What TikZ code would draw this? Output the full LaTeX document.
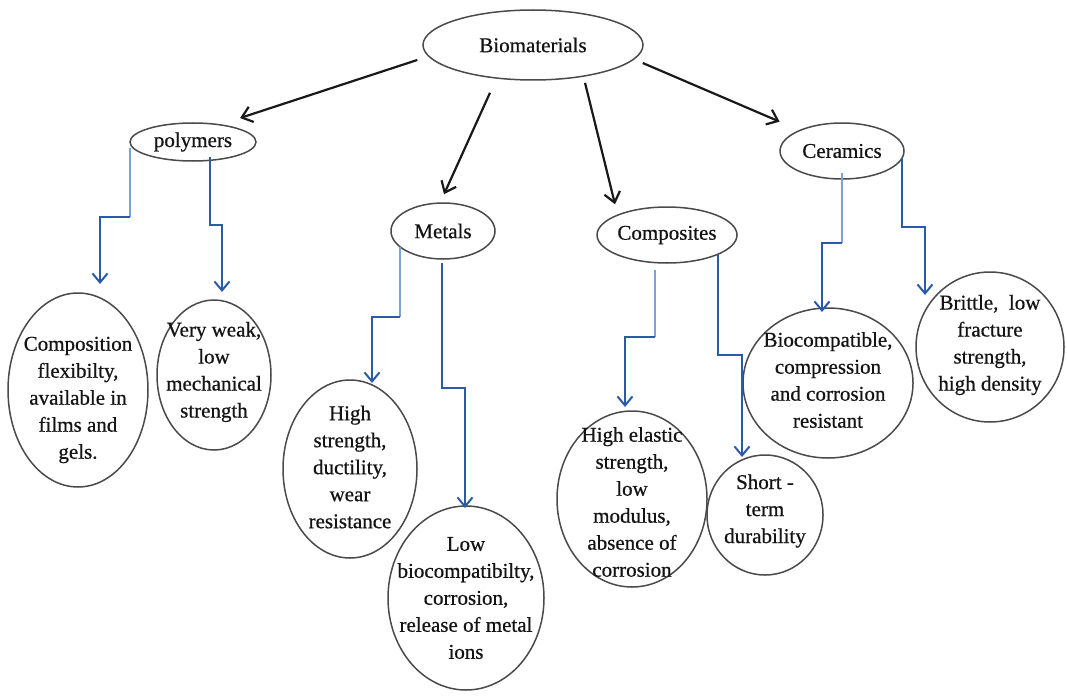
\documentclass[tikz,border=0pt]{standalone}
\usepackage{fontspec}
\setmainfont{Liberation Serif}[UprightFeatures={FakeBold=0.6}]
\usetikzlibrary{arrows.meta,shapes.geometric,calc}
\definecolor{dblue}{HTML}{2B5BA6}
\definecolor{lblue}{HTML}{7AA3D6}
\definecolor{ecol}{HTML}{4A4A4A}
\definecolor{tcol}{HTML}{141414}
\begin{document}
\begin{tikzpicture}[x=1pt,y=-1pt,
  el/.style={ellipse, draw=ecol, line width=1.5pt, inner sep=0pt},
  txt/.style={align=center, inner sep=0pt, text=tcol, font=\fontsize{21}{27}\selectfont},
  blk/.style={draw=black!90, line width=2.2pt, -{Straight Barb[length=10pt,width=16pt,line width=2.2pt]}},
  bl/.style={draw=dblue, line width=2.4pt, line join=miter, -{Straight Barb[length=9pt,width=15pt,line width=2pt]}},
  lb/.style={draw=lblue, line width=1.8pt},
]
\useasboundingbox (0,0) rectangle (1067,698);
\fill[white] (0,0) rectangle (1067,698);

% parent ellipses
\node[el, minimum width=220pt, minimum height=70pt] (bio) at (533,45) {};
\node[txt] (bio-t) at (bio) {Biomaterials};
\node[el, minimum width=126pt, minimum height=38pt] (poly) at (193,142) {};
\node[txt] (poly-t) at (poly) {polymers};
\node[el, minimum width=104pt, minimum height=56pt] (met) at (443,231) {};
\node[txt] (met-t) at (met) {Metals};
\node[el, minimum width=140pt, minimum height=56pt] (com) at (667,235) {};
\node[txt] (com-t) at (com) {Composites};
\node[el, minimum width=124pt, minimum height=56pt] (cer) at (842,151) {};
\node[txt] (cer-t) at (cer) {Ceramics};

% leaf ellipses
\node[el, minimum width=140pt, minimum height=194pt] (comp) at (78,390) {};
\node[txt] (comp-t) at (78,400) {Composition\\flexibilty,\\available in\\films and\\gels.};
\node[el, minimum width=114pt, minimum height=150pt] (weak) at (214,375) {};
\node[txt] (weak-t) at (214,372) {Very weak,\\low\\mechanical\\strength};
\node[el, minimum width=134pt, minimum height=178pt] (hs) at (350,469) {};
\node[txt] (hs-t) at (350,467) {High\\strength,\\ductility,\\wear\\resistance};
\node[el, minimum width=156pt, minimum height=184pt] (lbc) at (466,598) {};
\node[txt] (lbc-t) at (466,598) {Low\\biocompatibilty,\\corrosion,\\release of metal\\ions};
\node[el, minimum width=150pt, minimum height=176pt] (he) at (632,499) {};
\node[txt] (he-t) at (632,502) {High elastic\\strength,\\low\\modulus,\\absence of\\corrosion};
\node[el, minimum width=116pt, minimum height=120pt] (st) at (765,515) {};
\node[txt] (st-t) at (765,511) {Short -\\term\\durability};
\node[el, minimum width=170pt, minimum height=150pt] (bc) at (828,383) {};
\node[txt] (bc-t) at (828,380) {Biocompatible,\\compression\\and corrosion\\resistant};
\node[el, minimum width=148pt, minimum height=150pt] (br) at (990,347) {};
\node[txt] (br-t) at (990,345) {Brittle,\ \ low\\fracture\\strength,\\high density};

% black arrows from Biomaterials
\draw[blk] ($(bio.west)+(-5,15)$) -- ($(poly.north east)+(2,-10)$);
\draw[blk] ($(bio.south)+(-43,12)$) -- ($(met.north)+(1,-8)$);
\draw[blk] ($(bio.south)+(52,2)$) -- ($(com.north)+(-52,-2)$);
\draw[blk] ($(bio.east)+(-1,18)$) -- ($(cer.north west)+(-18,-9)$);

% blue elbow arrows
% polymers
\draw[lb] ($(poly.center)+(-63,6)$) -- ++(0,69) coordinate (pLk);
\draw[bl] (pLk) -| ($(comp.center)+(22,-106)$);
\draw[bl] ($(poly.center)+(17,15)$) -- ++(0,68) -| ($(weak.center)+(8,-83)$);
% metals
\draw[lb] ($(met.center)+(-43,16)$) -- ++(0,70) coordinate (mLk);
\draw[bl] (mLk) -| ($(hs.center)+(22,-86)$);
\draw[bl] ($(met.center)+(-1,32)$) -- ++(0,125) -| ($(lbc.center)+(-1,-90)$);
% composites
\draw[lb] ($(com.center)+(-12,35)$) -- ++(0,67) coordinate (cLk);
\draw[bl] (cLk) -| ($(he.center)+(-7,-92)$);
\draw[bl] ($(com.center)+(51,20)$) -- ++(0,100) -| ($(st.center)+(-23,-58)$);
% ceramics
\draw[lb] ($(cer.center)+(0,22)$) -- ++(0,70) coordinate (eLk);
\draw[bl] (eLk) -| ($(bc.center)+(-6,-71)$);
\draw[bl] ($(cer.center)+(60,7)$) -- ++(0,69) -| ($(br.center)+(-65,-52)$);
\end{tikzpicture}
\end{document}
